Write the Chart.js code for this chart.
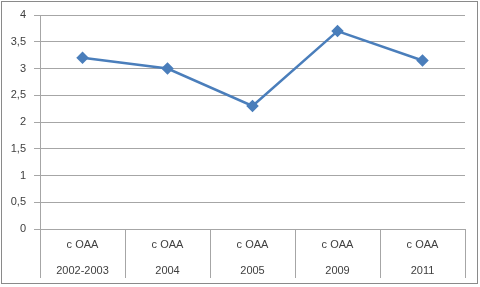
<!DOCTYPE html>
<html>
<head>
<meta charset="utf-8">
<script src="https://cdn.jsdelivr.net/npm/chart.js@4/dist/chart.umd.min.js"></script>
<style>
  body { margin: 0; background: #fff; }
  #wrap { position: relative; width: 480px; height: 287px; }
  #frame { position: absolute; left: 1px; top: 1px; width: 475px; height: 281px; border: 1px solid #8a8a8a; pointer-events: none; }
</style>
</head>
<body>
<div id="wrap">
  <canvas id="grafico" width="480" height="287"></canvas>
  <div id="frame"></div>
</div>
<script>
const categorias = ["c OAA", "c OAA", "c OAA", "c OAA", "c OAA"];
const anios = ["2002-2003", "2004", "2005", "2009", "2011"];
const valores = [3.2, 3.0, 2.3, 3.7, 3.15];

const etiquetas = categorias.map((c, i) => [c, anios[i]]);
const colorTexto = "#404040";
const colorLinea = "#a6a6a6";

const ctx = document.getElementById("grafico").getContext("2d");
new Chart(ctx, {
  type: "line",
  data: {
    labels: etiquetas,
    datasets: [{
      data: valores,
      borderColor: "#4a7ebb",
      backgroundColor: "#4a7ebb",
      borderWidth: 2.5,
      pointStyle: "rectRot",
      pointRadius: 4.5,
      pointHoverRadius: 4.5,
      tension: 0
    }]
  },
  options: {
    responsive: false,
    animation: false,
    layout: { padding: { left: 0, right: 15, top: 15, bottom: 0 } },
    plugins: { legend: { display: false }, tooltip: { enabled: false } },
    scales: {
      x: {
        offset: true,
        grid: {
          offset: true,
          drawOnChartArea: false,
          tickLength: 49,
          color: colorLinea
        },
        border: { color: colorLinea },
        ticks: {
          padding: -46,
          maxRotation: 0,
          color: colorTexto,
          font: { family: "'Liberation Sans', Arial, sans-serif", size: 11, lineHeight: 2.36 }
        },
        afterFit: (scale) => { scale.height = 58; }
      },
      y: {
        min: 0,
        max: 4,
        grid: { color: colorLinea, tickLength: 6 },
        border: { color: colorLinea },
        ticks: {
          stepSize: 0.5,
          padding: 8,
          color: colorTexto,
          font: { family: "'Liberation Sans', Arial, sans-serif", size: 11 },
          callback: (v) => String(v).replace(".", ",")
        },
        afterFit: (scale) => { scale.width = 40; }
      }
    }
  }
});
</script>
</body>
</html>
